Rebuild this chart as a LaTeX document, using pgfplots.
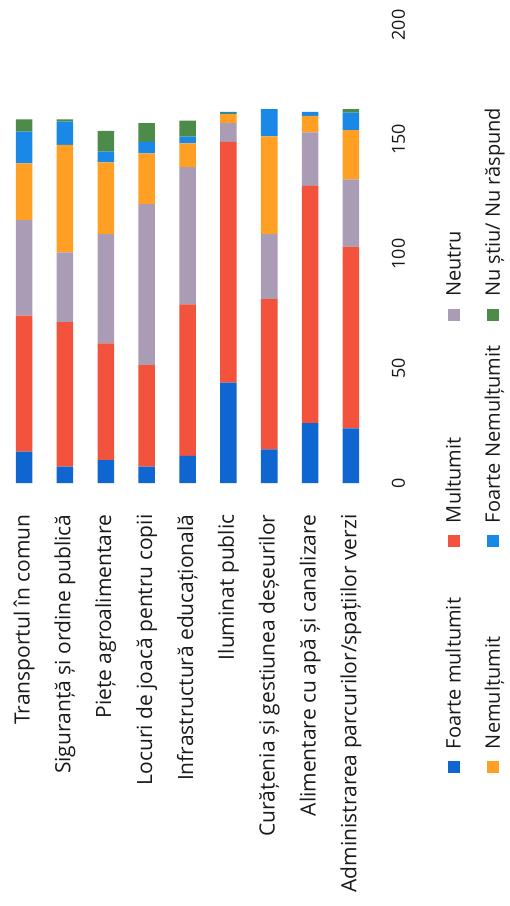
\documentclass[border=0pt]{standalone}
\usepackage{pgfplots}
\pgfplotsset{compat=1.18}
\usepackage{fontspec}
\setmainfont{Open Sans}
\definecolor{cFM}{RGB}{16,102,208}
\definecolor{cM}{RGB}{243,82,60}
\definecolor{cN}{RGB}{170,156,180}
\definecolor{cNem}{RGB}{255,160,36}
\definecolor{cFN}{RGB}{26,136,230}
\definecolor{cNS}{RGB}{76,139,74}
\pgfplotstableread{
idx FM M N Nem FN NS
0 13.7 59.4 41.7 24.8 13.8 5.4
1 7.1 63.1 30.5 46.9 10.2 1.0
2 10.0 51.0 47.7 31.3 4.7 9.1
3 7.1 44.4 70.3 22.1 5.1 8.1
4 11.9 66.1 59.9 10.4 2.9 7.0
5 43.8 105.2 8.1 4.0 0.5 0.5
6 14.7 65.6 28.4 42.6 11.9 0.0
7 26.1 103.6 23.4 7.2 1.8 0.0
8 23.9 79.3 29.4 21.5 7.6 1.5
}\datatable
\newcommand{\lt}[1]{\hspace{12bp}\makebox[202bp][l]{\strut #1}}
\begin{document}
\begin{tikzpicture}
\begin{scope}[rotate=90, transform shape]
\begin{axis}[
  scale only axis,
  width=458bp, height=367.8bp,
  xbar stacked,
  bar width=16.5bp,
  xmin=0, xmax=200,
  ymin=-0.5, ymax=8.5,
  y dir=reverse,
  clip=false,
  axis line style={draw=none},
  major tick length=0pt,
  tick style={draw=none},
  xtick={0,50,100,150,200},
  ytick={0,1,2,3,4,5,6,7,8},
  yticklabels={Transportul în comun, Siguranță și ordine publică, Piețe agroalimentare, Locuri de joacă pentru copii, Infrastructură educațională, Iluminat public, Curățenia și gestiunea deșeurilor, Alimentare cu apă și canalizare, Administrarea parcurilor/spațiilor verzi},
  /pgf/number format/assume math mode=true,
  xticklabel style={font=\fontsize{18bp}{22bp}\selectfont, yshift=-17bp, text=black!90},
  yticklabel style={font=\fontsize{21bp}{25bp}\selectfont, anchor=east, xshift=-28bp, text=black!90},
  legend image code/.code={\fill[#1, draw=none] (0bp,1bp) rectangle (12bp,13bp);},
  legend columns=3,
  legend style={draw=none, fill=none, inner sep=0pt, outer sep=0pt,
    at={(axis description cs:-0.6332,-0.197)}, anchor=north west,
    font=\fontsize{20bp}{24bp}\selectfont, text=black!90,
    row sep=21bp, column sep=0pt,
    nodes={inner sep=0pt, anchor=base west}},
]
\addplot[fill=cFM, draw=none] table[x=FM, y=idx] {\datatable};
\addlegendentry{\lt{Foarte multumit}}
\addplot[fill=cM, draw=none] table[x=M, y=idx] {\datatable};
\addlegendentry{\lt{Multumit}}
\addplot[fill=cN, draw=none] table[x=N, y=idx] {\datatable};
\addlegendentry{\lt{Neutru}}
\addplot[fill=cNem, draw=none] table[x=Nem, y=idx] {\datatable};
\addlegendentry{\lt{Nemulțumit}}
\addplot[fill=cFN, draw=none] table[x=FN, y=idx] {\datatable};
\addlegendentry{\lt{Foarte Nemulțumit}}
\addplot[fill=cNS, draw=none] table[x=NS, y=idx] {\datatable};
\addlegendentry{\lt{Nu știu/ Nu răspund}}
\path (axis cs:-184.7,-0.588) rectangle (axis cs:210.9,11.89);
\end{axis}
\end{scope}
\end{tikzpicture}
\end{document}
